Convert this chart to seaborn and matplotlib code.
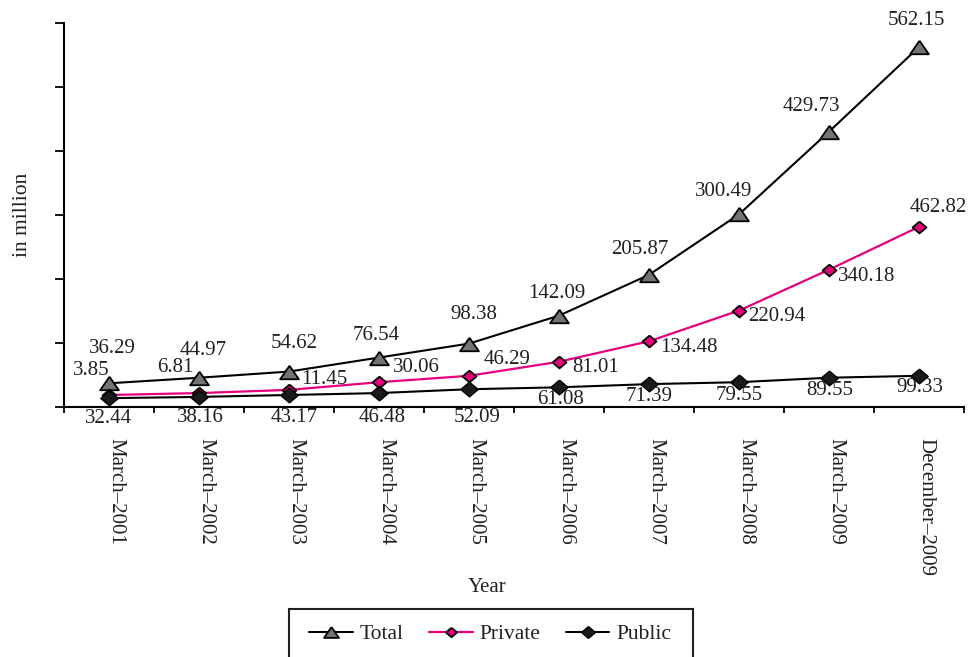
import matplotlib
matplotlib.use("Agg")
import matplotlib.pyplot as plt
import matplotlib.transforms as mtransforms
from matplotlib.patches import Rectangle
import numpy as np
import pandas as pd
import seaborn as sns

# ---------------- data ----------------
periods = ["March–2001", "March–2002", "March–2003", "March–2004", "March–2005",
           "March–2006", "March–2007", "March–2008", "March–2009", "December–2009"]
total = [36.29, 44.97, 54.62, 76.54, 98.38, 142.09, 205.87, 300.49, 429.73, 562.15]
# plotted heights as drawn in the picture (in million)
private_plotted = [18, 21, 26, 38, 48, 70, 102, 150, 214, 281]
public_plotted = [13, 15, 18, 21, 27, 30, 35, 38, 45, 48]
# value labels printed on the chart
total_labels = ["36.29", "44.97", "54.62", "76.54", "98.38", "142.09", "205.87",
                "300.49", "429.73", "562.15"]
private_labels = ["3.85", "6.81", "11.45", "30.06", "46.29", "81.01", "134.48",
                  "220.94", "340.18", "462.82"]
public_labels = ["32.44", "38.16", "43.17", "46.48", "52.09", "61.08", "71.39",
                 "79.55", "89.55", "99.33"]

# label offsets in pixels (dx right, dy down)
total_off = [(3, -35), (4, -27), (5, -28), (-3, -22), (5, -29), (-2, -22), (-9, -25),
             (-15, -23), (-18, -25), (-3, -27)]
private_off = [(-18, -24), (-24, -26), (35, -10), (37, -15), (38, -16), (37, 6),
               (40, 6), (38, 6), (38, 7), (19, -19)]
public_off = [(-1, 20), (1, 21), (5, 23), (3, 24), (8, 28), (2, 12), (0, 12),
              (0, 13), (1, 13), (1, 12)]

df = pd.DataFrame({"period": periods, "Total": total,
                   "Private": private_plotted, "Public": public_plotted})

# ---------------- style ----------------
sns.set_theme(style="white")
plt.rcParams["font.family"] = ["Liberation Serif", "DejaVu Serif"]
FS = 15
MAGENTA = "#E6007E"
TXT = "#231f20"

fig = plt.figure(figsize=(9.74, 6.57), dpi=100)
W, H = 974, 657
ax = fig.add_axes([64 / W, 1 - 406.5 / H, 900 / W, (406.5 - 22.8) / H])

tri = [(0, 0.72), (-1, -0.72), (1, -0.72), (0, 0.72)]
dia = [(0, 0.85), (1, 0), (0, -0.85), (-1, 0), (0, 0.85)]

sns.lineplot(data=df, x="period", y="Total", ax=ax, sort=False, color="black",
             lw=1.5, marker=tri, markersize=13.5, markerfacecolor="#737373",
             markeredgecolor="black", markeredgewidth=1.3, label="Total")
sns.lineplot(data=df, x="period", y="Private", ax=ax, sort=False, color=MAGENTA,
             lw=1.6, marker=dia, markersize=10, markerfacecolor=MAGENTA,
             markeredgecolor="black", markeredgewidth=1.3, label="Private")
sns.lineplot(data=df, x="period", y="Public", ax=ax, sort=False, color="black",
             lw=1.5, marker=dia, markersize=12.5, markerfacecolor="#1a1a1a",
             markeredgecolor="black", markeredgewidth=1.0, label="Public")

# value labels
for series, labels, offs in ((total, total_labels, total_off),
                             (private_plotted, private_labels, private_off),
                             (public_plotted, public_labels, public_off)):
    for i, (v, t, (dx, dy)) in enumerate(zip(series, labels, offs)):
        ax.annotate(t, xy=(i, v), xytext=(dx, -dy), textcoords="offset pixels",
                    ha="center", va="center", fontsize=FS, color=TXT,
                    annotation_clip=False)

# axes
ax.set_xlim(-0.5, len(periods) - 0.5)
ax.set_ylim(0, 600)
ax.set_yticks(np.arange(0, 601, 100))
ax.set_yticklabels([])
ax.set_xticks(np.arange(len(periods)))
ax.set_xticklabels(periods, rotation=270, ha="center", va="top", fontsize=FS,
                   color=TXT)
ax.set_xticks(np.arange(-0.5, len(periods), 1), minor=True)
ax.tick_params(axis="x", which="major", length=0, pad=22.5)
ax.tick_params(axis="x", which="minor", direction="out", length=4, width=1.3,
               color="black", bottom=True)
ax.tick_params(axis="y", which="major", direction="out", length=6.5, width=1.3,
               color="black", left=True)
offset = mtransforms.ScaledTranslation(7 / 100, 0, fig.dpi_scale_trans)
for lab in ax.get_xticklabels():
    lab.set_transform(lab.get_transform() + offset)

sns.despine(ax=ax)
for s in ("left", "bottom"):
    ax.spines[s].set_color("black")
    ax.spines[s].set_linewidth(1.5)

ax.set_xlabel("")
ax.set_ylabel("in million", fontsize=15.5, color=TXT)
ax.yaxis.set_label_coords(-0.0356, 0.5)

fig.text(487 / W, 1 - 588 / H, "Year", ha="center", va="center", fontsize=FS,
         color=TXT)

# legend
handles, labels = ax.get_legend_handles_labels()
ax.get_legend().remove()
fig.legend(handles, labels, loc="center", bbox_to_anchor=(490.5 / W, 1 - 634 / H),
           ncol=3, frameon=False, fontsize=15.5, handlelength=2.0,
           handletextpad=0.33, columnspacing=1.2, markerscale=0.8,
           labelcolor=TXT)
fig.patches.append(Rectangle((289 / W, 1 - 665 / H), (693 - 289) / W, (665 - 609) / H,
                             transform=fig.transFigure, fill=False, lw=1.5,
                             ec=TXT, clip_on=False))

fig.savefig("out.png", dpi=100)
